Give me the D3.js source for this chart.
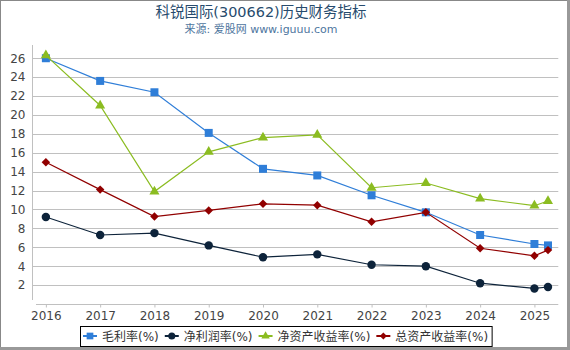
<!DOCTYPE html>
<html>
<head>
<meta charset="utf-8">
<script src="https://cdn.jsdelivr.net/npm/d3@7"></script>
<style>
  body { margin: 0; background: #fff; }
  svg { display: block; font-family: "DejaVu Sans", "Noto Sans CJK SC", sans-serif; }
</style>
</head>
<body>
<div id="chart"></div>
<script>
// Data
const periods = [2016, 2017, 2018, 2019, 2020, 2021, 2022, 2023, 2024, 2025, 2025.25];
const yearTicks = [2016, 2017, 2018, 2019, 2020, 2021, 2022, 2023, 2024, 2025];
const yTicks = [2, 4, 6, 8, 10, 12, 14, 16, 18, 20, 22, 24, 26];
const seriesNames = ["毛利率(%)", "净利润率(%)", "净资产收益率(%)", "总资产收益率(%)"];
const grossMargin = [26.0, 23.6, 22.4, 18.1, 14.3, 13.6, 11.5, 9.7, 7.3, 6.35, 6.2];
const netMargin = [9.2, 7.3, 7.5, 6.2, 4.95, 5.25, 4.15, 4.0, 2.2, 1.65, 1.8];
const roe = [26.3, 21.0, 11.9, 16.1, 17.6, 17.9, 12.3, 12.8, 11.15, 10.4, 10.9];
const roa = [15.0, 12.1, 9.25, 9.9, 10.6, 10.45, 8.7, 9.7, 5.9, 5.1, 5.7];

const W = 570, H = 350;
const colors = ["#2f7ed8", "#0d233a", "#8bbc21", "#910000"];
const symbols = [d3.symbolSquare, d3.symbolCircle, d3.symbolTriangle, d3.symbolSquare];
const symSize = [64, 56, 44, 36];
const symRotate = [0, 0, 0, 45];
const allSeries = [grossMargin, netMargin, roe, roa];

const svg = d3.select("#chart").append("svg")
    .attr("width", W)
    .attr("height", H);

// Title, sized to the width it has in the picture
function fitText(sel, base, target) {
    sel.attr("font-size", base);
    const w = sel.node().getComputedTextLength();
    sel.attr("font-size", base * target / w);
}

const title = svg.append("text")
    .attr("x", 261).attr("y", 17)
    .attr("text-anchor", "middle")
    .attr("fill", "#274b6d")
    .text("科锐国际(300662)历史财务指标");
fitText(title, 16, 211);

const subtitle = svg.append("text")
    .attr("x", 261).attr("y", 33)
    .attr("text-anchor", "middle")
    .attr("fill", "#4d759e")
    .text("来源: 爱股网 www.iguuu.com");
fitText(subtitle, 11, 153);

// Scales
const x = d3.scaleLinear().domain([2015.75, 2025.44]).range([32.3, 558.3]);
const y = d3.scaleLinear().domain([0, 27.4]).range([304, 45]);

// Grid lines
svg.append("g")
    .selectAll("line")
    .data(yTicks)
    .enter().append("line")
    .attr("x1", 32.3).attr("x2", 558.3)
    .attr("y1", d => Math.round(y(d)) + 0.5)
    .attr("y2", d => Math.round(y(d)) + 0.5)
    .attr("stroke", "#c0c0c0");

// Y axis
const yAxis = svg.append("g")
    .attr("transform", "translate(32.5,0)")
    .call(d3.axisLeft(y).tickValues(yTicks).tickSize(0).tickPadding(7));
yAxis.select(".domain").remove();
yAxis.append("line")
    .attr("x1", 0).attr("x2", 0).attr("y1", 45).attr("y2", 300)
    .attr("stroke", "#c0c0c0");
yAxis.selectAll("text")
    .attr("font-size", 12)
    .attr("font-family", "DejaVu Sans")
    .attr("fill", "#444");

// X axis
const xAxis = svg.append("g")
    .attr("transform", "translate(0,304.5)")
    .call(d3.axisBottom(x).tickValues(yearTicks).tickFormat(d3.format("d")).tickSize(3).tickPadding(4));
xAxis.select(".domain").remove();
xAxis.append("line")
    .attr("x1", 36).attr("x2", 558.3).attr("y1", 0).attr("y2", 0)
    .attr("stroke", "#c0c0c0");
xAxis.selectAll(".tick line").attr("stroke", "#c0c0c0");
xAxis.selectAll("text")
    .attr("font-size", 12)
    .attr("font-family", "DejaVu Sans")
    .attr("fill", "#444");

// Lines and markers
const line = d3.line()
    .x((d, i) => x(periods[i]))
    .y(d => y(d));

allSeries.forEach((vals, s) => {
    const g = svg.append("g");
    g.append("path")
        .datum(vals)
        .attr("d", line)
        .attr("fill", "none")
        .attr("stroke", colors[s])
        .attr("stroke-width", 1.2);
    g.selectAll("path.marker")
        .data(vals)
        .enter().append("path")
        .attr("class", "marker")
        .attr("transform", (d, i) => `translate(${x(periods[i])},${y(d)}) rotate(${symRotate[s]})`)
        .attr("d", d3.symbol().type(symbols[s]).size(symSize[s]))
        .attr("fill", colors[s]);
});

// Legend
const legend = svg.append("g");
const legendBox = legend.append("rect")
    .attr("fill", "#fff")
    .attr("stroke", "#000");
let lx = 83;
const ly = 336;
seriesNames.forEach((name, s) => {
    const item = legend.append("g");
    item.append("line")
        .attr("x1", lx).attr("x2", lx + 14)
        .attr("y1", ly).attr("y2", ly)
        .attr("stroke", colors[s])
        .attr("stroke-width", 2);
    item.append("path")
        .attr("transform", `translate(${lx + 7},${ly}) rotate(${symRotate[s]})`)
        .attr("d", d3.symbol().type(symbols[s]).size(symSize[s] * 0.7))
        .attr("fill", colors[s]);
    const t = item.append("text")
        .attr("x", lx + 19).attr("y", ly + 4.5)
        .attr("font-size", 12)
        .attr("fill", "#333")
        .text(name);
    lx += 19 + t.node().getComputedTextLength() + 6;
});
legendBox
    .attr("x", 80.5).attr("y", 326.5)
    .attr("width", lx - 80.5 - 2).attr("height", 20);

// Frame
svg.append("rect")
    .attr("x", 0.5).attr("y", 0.5)
    .attr("width", W - 3).attr("height", H - 3)
    .attr("fill", "none")
    .attr("stroke", "#888");
svg.append("rect")
    .attr("x", W - 3).attr("y", 0).attr("width", 3).attr("height", H)
    .attr("fill", "#999");
svg.append("rect")
    .attr("x", 0).attr("y", H - 3).attr("width", W).attr("height", 3)
    .attr("fill", "#999");
</script>
</body>
</html>
